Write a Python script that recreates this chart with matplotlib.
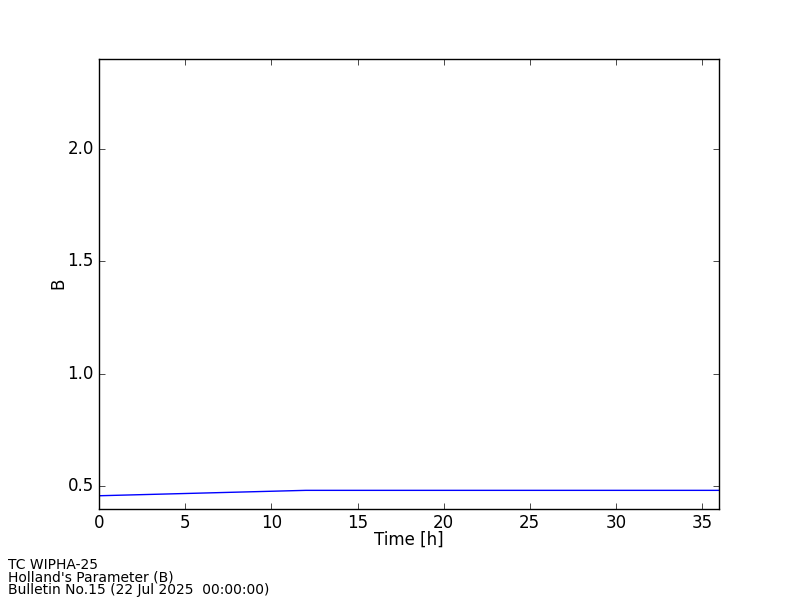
import matplotlib
matplotlib.use("Agg")
import matplotlib.pyplot as plt

# Holland B parameter every 6 h
hours = [0, 6, 12, 18, 24, 30, 36]
b_values = [0.458, 0.470, 0.482, 0.482, 0.482, 0.482, 0.482]

info_lines = ["TC WIPHA-25", "Holland's Parameter (B)", "Bulletin No.15 (22 Jul 2025  00:00:00)"]

plt.style.use("classic")
fig = plt.figure(figsize=(8, 6), dpi=100, facecolor="white")
ax = fig.add_axes([0.124, 0.152, 0.775, 0.750])
ax.plot(hours, b_values, color="blue")
ax.set_xlim(0, 36)
ax.set_ylim(0.4, 2.4)
ax.set_xticks([0, 5, 10, 15, 20, 25, 30, 35])
ax.set_yticks([0.5, 1.0, 1.5, 2.0])
ax.set_xlabel("Time [h]", labelpad=-1)
ax.set_ylabel("B", labelpad=0)

fig.text(0.01, 0.005, "\n".join(info_lines), fontsize=10, ha="left", va="bottom",
         linespacing=0.85)

fig.savefig("out.png", dpi=100, facecolor="white")
